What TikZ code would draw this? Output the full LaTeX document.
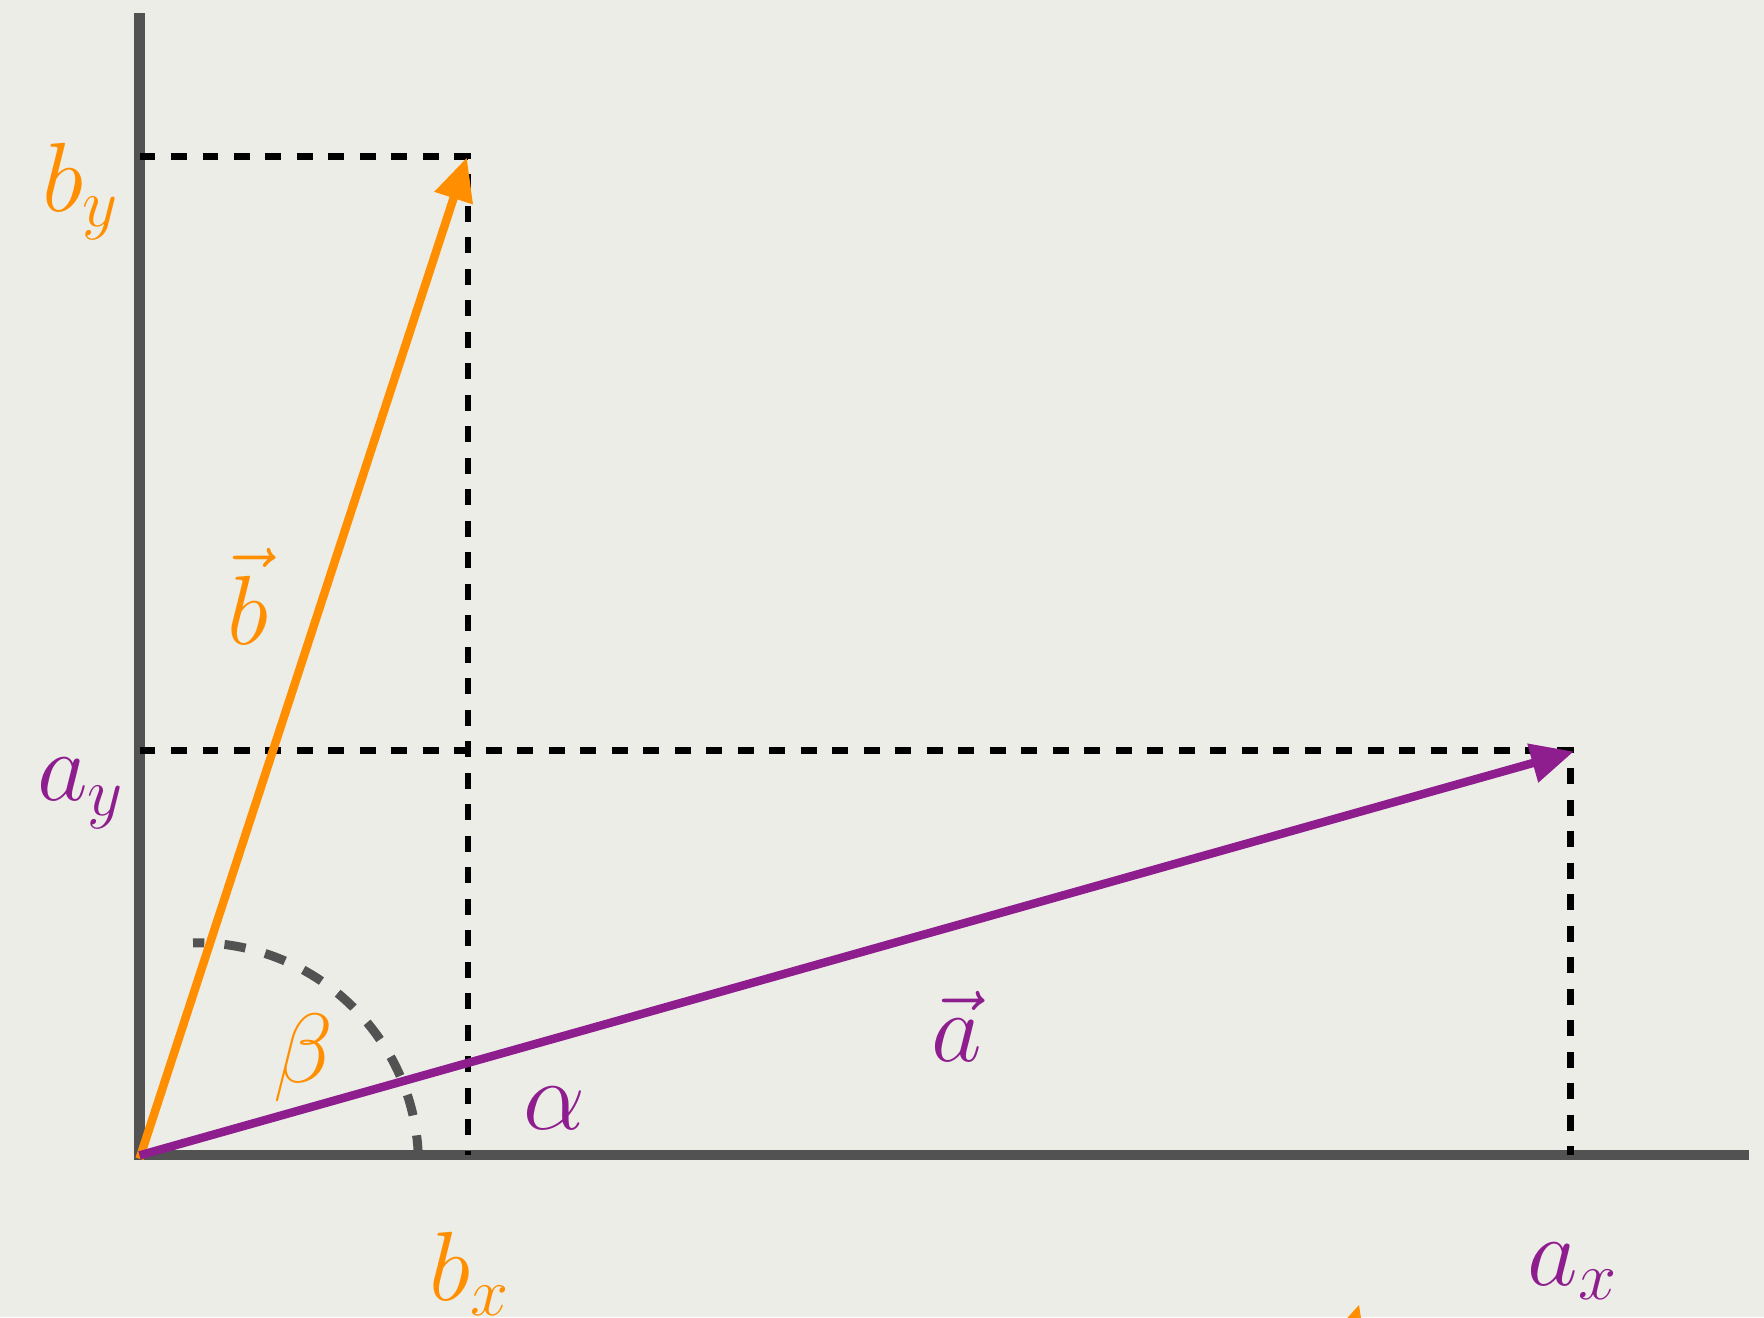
\documentclass[tikz,border=0pt]{standalone}
\usepackage{amsmath,amssymb}
\usepackage{xcolor}
\usepackage{tikz}
\usetikzlibrary{arrows.meta, positioning, calc}
\definecolor{vecorange}{RGB}{255,143,0}
\definecolor{vecpurple}{RGB}{142,30,142}
\definecolor{axisgray}{RGB}{82,82,82}
\definecolor{paper}{RGB}{237,237,232}
\tikzset{
  axis/.style={line width=0.9mm, axisgray},
  vec/.style={line width=0.75mm, -{Triangle[length=3.8mm, width=3.4mm]}},
  proj/.style={line width=0.6mm, black, dash pattern=on 1.4mm off 1.4mm},
  angarc/.style={line width=0.8mm, axisgray, dash pattern=on 1.9mm off 1.8mm},
  lbl/.style={font=\fontsize{25}{30}\selectfont, inner sep=0pt}
}

\begin{document}
\begin{tikzpicture}[x=0.1mm, y=-0.1mm]
  \fill[paper] (0,0) rectangle (1568,1171);
  \useasboundingbox (0,0) rectangle (1568,1171);
  \clip (0,0) rectangle (1568,1171);
  % points
  \coordinate (O) at (124,1027);
  \coordinate (ytop) at (124,12);
  \coordinate (xend) at (1555,1027);
  \coordinate (B) at (415,140);
  \coordinate (A) at (1399,668);
  \coordinate (by) at (124,139);
  \coordinate (bc) at (416,139);
  \coordinate (bx) at (416,1027);
  \coordinate (ay) at (124,667);
  \coordinate (ac) at (1396,667);
  \coordinate (ax) at (1396,1027);
  \coordinate (arcc) at (175,1035);
  % axes
  \draw[axis] (ytop) -- ($(O)+(0,4)$);
  \draw[axis] ($(O)+(-4,0)$) -- (xend);
  % projections
  \draw[proj] (by) -- (bc) -- (bx);
  \draw[proj] (ay) -- (ac) -- (ax);
  \draw[angarc] (arcc) ++(-2:197) arc[start angle=-2, end angle=-91, radius=197];
  % vectors
  \draw[vec, vecorange] ($(O)+(0,3)$) -- (B);
  \draw[vec, vecpurple] (O) -- (A);
  \fill[vecorange] (1208,1160) -- (1190,1180) -- (1211,1180) -- cycle;
  % labels
  \node[lbl, text=vecorange] (lby) at (72,170) {$b_y$};
  \node[lbl, text=vecpurple] (lay) at (72,705) {$a_y$};
  \node[lbl, text=vecorange] (lbx) at (418,1132) {$b_x$};
  \node[lbl, text=vecpurple] (lax) at (1398,1130) {$a_x$};
  \node[lbl, text=vecorange] (lvb) at (220,530) {$\vec{b}$};
  \node[lbl, text=vecpurple] (lva) at (850,912) {$\vec{a}$};
  \node[lbl, text=vecorange] (lbeta) at (270,940) {$\beta$};
  \node[lbl, text=vecpurple] (lalpha) at (493,985) {$\alpha$};
\end{tikzpicture}
\end{document}
